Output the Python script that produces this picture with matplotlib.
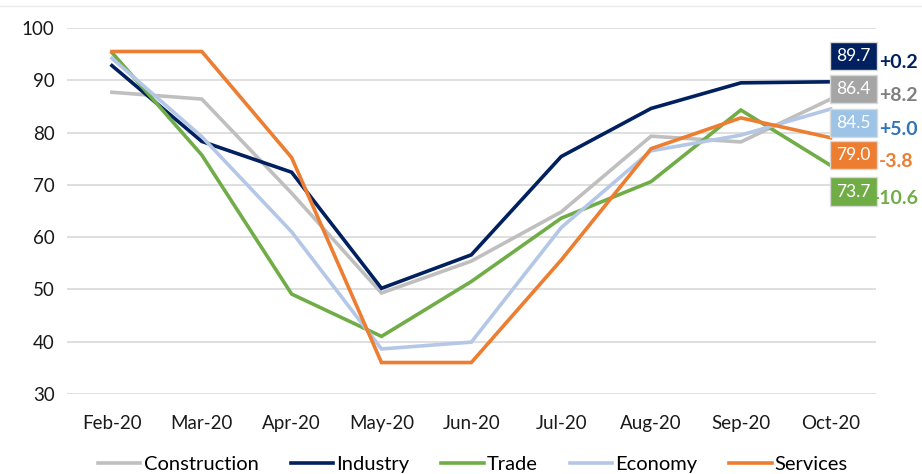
import matplotlib.pyplot as plt

plt.rcParams['font.family'] = ['Lato', 'DejaVu Sans']

months = ['Feb-20', 'Mar-20', 'Apr-20', 'May-20', 'Jun-20', 'Jul-20', 'Aug-20', 'Sep-20', 'Oct-20']

construction = [87.7, 86.4, 68.4, 49.3, 55.4, 64.8, 79.3, 78.2, 86.4]
industry = [92.8, 78.3, 72.4, 50.2, 56.6, 75.4, 84.6, 89.5, 89.7]
trade = [95.3, 75.7, 49.1, 41.0, 51.5, 63.6, 70.6, 84.3, 73.7]
economy = [94.2, 79.2, 61.0, 38.6, 39.9, 61.8, 76.5, 79.5, 84.5]
services = [95.5, 95.5, 75.2, 36.0, 36.0, 55.6, 76.9, 82.8, 79.0]

names = ['Construction', 'Industry', 'Trade', 'Economy', 'Services']
series = [construction, industry, trade, economy, services]
colors = ['#BFBFBF', '#002060', '#70AD47', '#B4C7E7', '#ED7D31']
change_colors = ['#7F7F7F', '#002060', '#70AD47', '#2E75B6', '#ED7D31']
box_colors = ['#A5A5A5', '#002060', '#70AD47', '#9DC3E6', '#ED7D31']
changes = ['+8.2', '+0.2', '-10.6', '+5.0', '-3.8']
# y positions of the end labels (data units)
label_y = [88.3, 94.6, 68.7, 81.8, 75.7]

fig = plt.figure(figsize=(9.22, 4.74), dpi=100)
ax = fig.add_axes([0.0727, 0.169, 0.877, 0.772])

x = list(range(len(months)))
for name, vals, c in zip(names, series, colors):
    ax.plot(x, vals, color=c, lw=2.6, label=name, solid_joinstyle='miter')

ax.set_xlim(-0.5, len(months) - 0.5)
ax.set_ylim(30, 100)
ax.set_yticks(range(30, 101, 10))
ax.set_xticks(x)
ax.set_xticklabels(months)
ax.grid(axis='y', color='#D9D9D9', lw=1.2)
ax.set_axisbelow(True)
for s in ax.spines.values():
    s.set_visible(False)
ax.tick_params(length=0, labelsize=13.5, colors='#1a1a1a')
ax.tick_params(axis='x', pad=15)
ax.tick_params(axis='y', pad=9)

# end-of-line value boxes and change labels
for vals, bc, cc, ch, ly in zip(series, box_colors, change_colors, changes, label_y):
    ax.text(x[-1] + 0.06, ly, f'{vals[-1]:.1f}', color='white', fontsize=12.5,
            ha='left', va='center', clip_on=False,
            bbox=dict(boxstyle='square,pad=0.36', fc=bc, ec='#D9D9D9', lw=1))
    dx = 0.47 if ch == '-10.6' else 0.54
    ax.text(x[-1] + dx, ly - 1.3, ch, color=cc, fontsize=14, fontweight='bold',
            ha='left', va='center', clip_on=False)

fig.add_artist(plt.Line2D([0, 1], [0.988, 0.988], color='#EBEBEB', lw=1))

fig.legend(loc='center', bbox_to_anchor=(0.513, 0.02), ncol=5, frameon=False,
           fontsize=14.5, handlelength=2.1, handletextpad=0.15, columnspacing=1.6)

fig.savefig('out.png', dpi=100)
